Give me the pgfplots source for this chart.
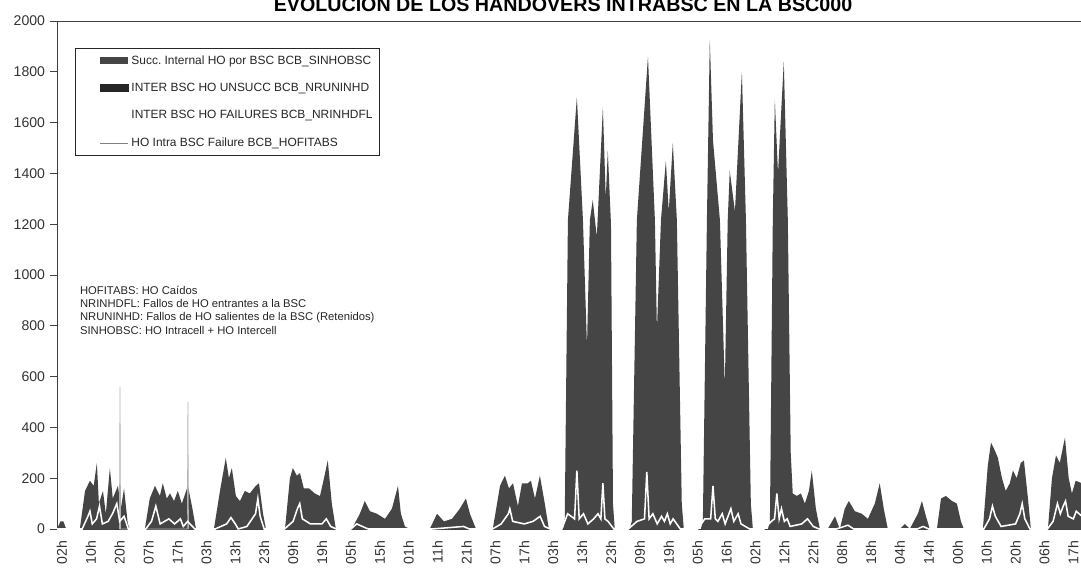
\documentclass[border=0pt]{standalone}
\usepackage{fontspec}
\setmainfont{Liberation Sans}
\usepackage{pgfplots}
\pgfplotsset{compat=1.18}
\definecolor{areagray}{gray}{0.27}
\begin{document}
\begin{tikzpicture}
\begin{axis}[
  scale only axis, width=25.625cm, height=12.7cm,
  xmin=-1.7, xmax=353, ymin=0, ymax=2000,
  axis line style={black!75, line width=0.7pt},
  xtick={0,10,...,350},
  xticklabels={02h,10h,20h,07h,17h,03h,13h,23h,09h,19h,05h,15h,01h,11h,21h,07h,17h,03h,13h,23h,09h,19h,05h,16h,02h,12h,22h,08h,18h,04h,14h,00h,10h,20h,06h,17h},
  xtick pos=bottom, ytick pos=left,
  xtick style={draw=none},
  xticklabel style={rotate=90, anchor=east, font=\fontsize{10}{10}\selectfont, text=black!80},
  ytick={0,200,...,2000},
  ytick style={black!75, line width=0.7pt},
  tick align=outside, major tick length=5pt,
  yticklabel style={font=\fontsize{10}{10}\selectfont, text=black!80},
  /pgf/number format/assume math mode=true,
  /pgf/number format/1000 sep={},
  legend cell align=left,
  legend style={at={(0.0176,0.947)}, anchor=north west, draw=black!85, line width=0.6pt,
    font=\fontsize{8.5}{9}\selectfont, text=black!85, inner xsep=3pt, inner ysep=3pt,
    row sep=8pt},
]
% Succ. Internal HO por BSC
\addplot[fill=areagray, draw=none,
  legend image code/.code={\path (0pt,0pt); \fill[areagray] (14pt,-2.5pt) rectangle (34pt,2.5pt);}]
coordinates {
(-1.7,0)(-0.5,30)(0.5,30)(1.5,0)
(6.2,0)(8,150)(9.7,190)(11,170)(12.1,260)(12.8,100)(14.2,150)(15.2,60)(16.6,240)(17.6,120)(19.4,170)(20.4,80)(21.5,160)(22.8,20)(23.5,0)
(28.7,0)(30.4,120)(32.2,170)(33.9,130)(34.9,180)(36.3,120)(37.4,140)(38.8,110)(40.1,150)(41.5,100)(43.6,170)(45,90)(46.4,0)
(52.6,0)(54.7,150)(56.7,280)(57.8,200)(58.8,240)(60.2,130)(61.6,110)(63.3,150)(65,140)(67.1,170)(68.2,180)(69.6,60)(70.6,0)
(77.2,0)(78.9,200)(79.9,240)(81.3,210)(82.4,220)(83.7,160)(85.5,160)(87.5,140)(89.3,130)(90.7,200)(92,270)(93.4,100)(94.8,0)
(100.3,0)(103.1,60)(104.8,110)(106.6,70)(109,60)(111.8,40)(114.2,80)(116.3,170)(117.3,60)(118.7,10)(120.4,0)
(127.3,0)(129.8,60)(132.2,30)(135,40)(137.7,80)(139.8,120)(141.2,60)(143.3,0)
(149.1,0)(151.6,170)(153.3,210)(154.7,160)(156.1,180)(157.8,90)(159.2,180)(161.2,180)(162.3,190)(163.7,120)(165.4,210)(167.1,100)(168.5,0)
(173.4,0)(174.0,35)(175.1,1216)(178.2,1700)(180.3,1216)(181.7,717)(182.7,1216)(183.7,1295)(185.1,1150)(187.2,1660)(188.2,1300)(188.9,1490)(190.0,1200)(190.7,100)(191.3,0)
(196.5,0)(197.2,30)(198.96,1216)(202.8,1860)(205.2,1216)(205.9,783)(207.3,1216)(209.0,1450)(210.0,1250)(211.4,1520)(212.8,1216)(214.5,100)(215.2,0)
(221.1,0)(221.8,30)(223.2,1216)(224.2,1925)(225.3,1530)(227.7,1216)(229.4,559)(230.4,1216)(231.1,1410)(232.9,1250)(235.3,1800)(236.7,1216)(238.4,100)(239.1,0)
(244.3,0)(245.0,30)(246.0,1216)(246.7,1690)(247.8,1400)(249.8,1840)(251.2,1216)(252.2,300)(252.9,140)(254.3,130)(255.7,140)(257.1,100)(258.5,150)(259.5,230)(260.9,80)(262.3,0)
(265,0)(267.5,50)(269.2,0)(270.9,80)(272.3,110)(274.4,70)(276.8,60)(278.9,40)(281.3,100)(283,180)(284.4,80)(285.8,0)
(290,0)(291.7,20)(293.4,0)(296.2,60)(297.6,110)(299,50)(300.3,0)(302.8,0)(304.2,120)(305.9,130)(308,110)(309.7,100)(311.1,30)(312.1,0)
(318.7,0)(320.4,250)(321.5,340)(322.8,310)(323.9,280)(325.3,200)(326.6,150)(328,180)(329.1,230)(330.4,200)(331.8,260)(332.9,270)(334.3,120)(335.3,0)
(341.2,0)(342.6,200)(344,290)(345.3,260)(347.1,360)(348.4,200)(349.5,140)(350.8,190)(353,180)
} \closedcycle;
\addlegendentry{Succ.\ Internal HO por BSC BCB\_SINHOBSC}
\addlegendimage{legend image code/.code={\path (0pt,0pt); \fill[black!85] (14pt,-2.5pt) rectangle (34pt,2.5pt);}}
\addlegendentry{INTER BSC HO UNSUCC BCB\_NRUNINHD}
% INTER BSC HO FAILURES (thin light spikes)
\addplot[black!30, line width=0.5pt,
  legend image code/.code={\path (0pt,0pt) (34pt,0pt);}]
coordinates {(19.9,0)(20.1,560)(20.3,0)(43.4,0)(43.6,500)(43.8,0)};
\addlegendentry{INTER BSC HO FAILURES BCB\_NRINHDFL}
% HO Intra BSC Failure (white line)
\addplot[white, line width=1.1pt,
  legend image code/.code={\path (0pt,0pt); \draw[black!50, line width=0.5pt] (14pt,0pt) -- (34pt,0pt);}]
coordinates {
(-1.7,0)(7,0)(9,50)(9.7,70)(10.5,20)(12,40)(13,90)(14,20)(16,30)(17.5,60)(19,100)(20,30)(21.5,50)(23,0)
(29,0)(31,30)(32.5,90)(34,20)(37,40)(39,20)(41,40)(42,10)(43.5,30)(46,0)
(53,0)(57,20)(58.5,45)(60,20)(61,0)(64,10)(67,60)(67.8,120)(68.6,50)(70,0)
(77,0)(80,30)(81.5,80)(82.3,100)(83.2,40)(86,20)(90,20)(91.5,40)(93,10)(95,0)
(100,0)(102,20)(104,10)(106,0)
(128,0)(139,10)(141,0)
(149,0)(152,20)(154.5,60)(155,80)(156,30)(160,20)(163,30)(165.5,50)(167,10)(169,0)
(173,0)(175,60)(177.4,40)(178.2,230)(179,40)(180.5,60)(182,20)(184,40)(185.5,60)(186.5,40)(187.2,180)(187.9,40)(189,30)(191,0)
(196,0)(199,30)(201.6,40)(202.4,225)(203.2,40)(204.5,60)(206,20)(207.5,50)(208.5,30)(209.5,60)(210.5,20)(211.5,40)(214,0)
(220,0)(222.5,40)(224.5,40)(225.3,170)(226.1,40)(227,30)(228.5,60)(229.5,20)(231.5,80)(232.5,30)(234,60)(235,20)(238,0)
(243,0)(245.5,30)(246.6,40)(247.4,140)(248.2,40)(249,80)(250,30)(251,40)(252,10)(256,20)(258,40)(260,10)(262,0)
(268,0)(272,15)(274,0)(296,0)(298,10)(300,0)
(319,0)(321,40)(322,90)(323,50)(325,10)(330,20)(331.5,60)(332.3,100)(333.2,40)(335,0)
(341,0)(343,30)(344.5,100)(345.5,60)(346.5,90)(347.3,110)(348.2,50)(350,40)(351,70)(353,50)
};
\addlegendentry{HO Intra BSC Failure BCB\_HOFITABS}
\node[anchor=north west, align=left, font=\fontsize{8}{9.25}\selectfont, text=black!85, inner sep=0pt]
  at (axis cs:6.2,955) {HOFITABS: HO Caídos\\NRINHDFL: Fallos de HO entrantes a la BSC\\NRUNINHD: Fallos de HO salientes de la BSC (Retenidos)\\SINHOBSC: HO Intracell + HO Intercell};
\end{axis}
\node[anchor=base, font=\bfseries\fontsize{14}{14}\selectfont] at (12.65cm,12.93cm) {EVOLUCIÓN DE LOS HANDOVERS INTRABSC EN LA BSC000};
\pgfresetboundingbox
\useasboundingbox (-1.425cm,-0.95cm) rectangle (25.6cm,13.225cm);
\end{tikzpicture}
\end{document}
